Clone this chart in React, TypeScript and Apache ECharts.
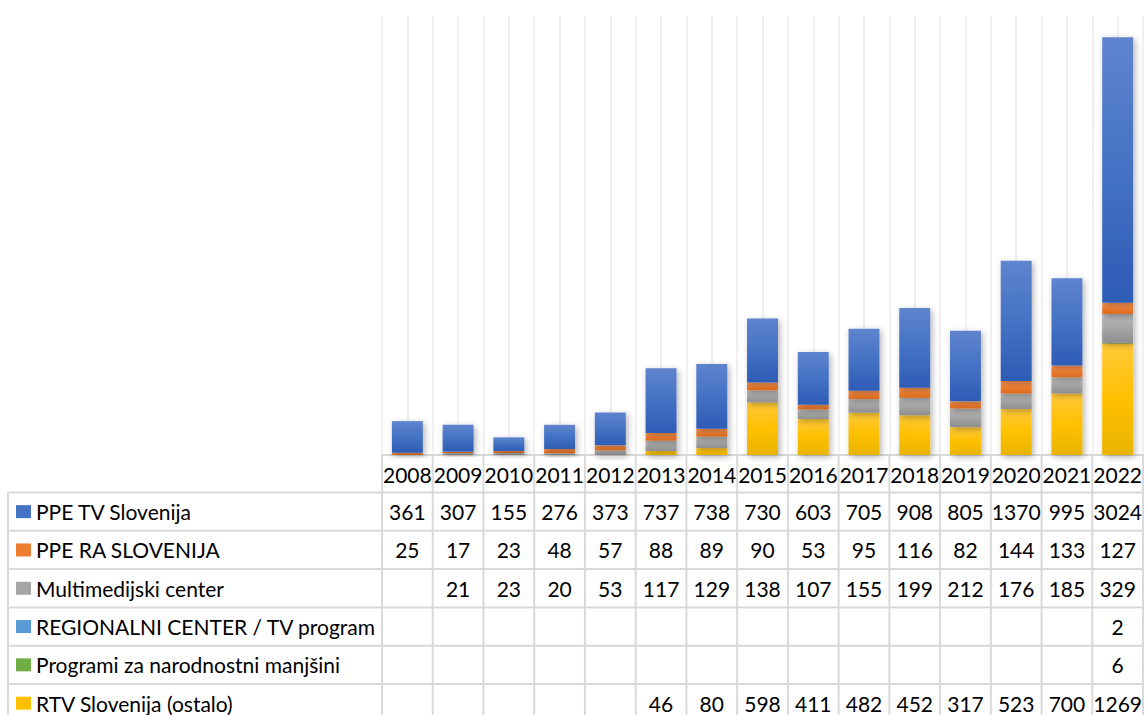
import React, { useEffect, useRef } from "react";
import * as echarts from "echarts";

const years = ["2008", "2009", "2010", "2011", "2012", "2013", "2014", "2015", "2016", "2017", "2018", "2019", "2020", "2021", "2022"];
const ppeTV = [361, 307, 155, 276, 373, 737, 738, 730, 603, 705, 908, 805, 1370, 995, 3024];
const ppeRA = [25, 17, 23, 48, 57, 88, 89, 90, 53, 95, 116, 82, 144, 133, 127];
const multimedijski = [null, 21, 23, 20, 53, 117, 129, 138, 107, 155, 199, 212, 176, 185, 329];
const regionalni = [null, null, null, null, null, null, null, null, null, null, null, null, null, null, 2];
const programi = [null, null, null, null, null, null, null, null, null, null, null, null, null, null, 6];
const rtvOstalo = [null, null, null, null, null, 46, 80, 598, 411, 482, 452, 317, 523, 700, 1269];

const seriesNames = [
  "PPE TV Slovenija",
  "PPE RA SLOVENIJA",
  "Multimedijski center",
  "REGIONALNI CENTER / TV program",
  "Programi za narodnostni manjšini",
  "RTV Slovenija (ostalo)",
];
const seriesData = [ppeTV, ppeRA, multimedijski, regionalni, programi, rtvOstalo];
const baseColors = ["#4472C4", "#ED7D31", "#A5A5A5", "#5B9BD5", "#70AD47", "#FFC000"];
const topColors = ["#5F84CE", "#F5945A", "#B8B8B8", "#7AAFDD", "#86BE62", "#FFCA3A"];
const bottomColors = ["#2E5CB5", "#DA6A1F", "#8E8E8E", "#3F82C0", "#5A9A33", "#E8B400"];

const FONT = "Lato, 'Noto Sans', sans-serif";
const FS = 21;

export default function App() {
  const ref = useRef<HTMLDivElement>(null);
  useEffect(() => {
    if (!ref.current) return;
    const chart = echarts.init(ref.current, null, { renderer: "svg" });
    const gridLeft = 382;
    const gridRight = 1;
    const gridTop = 16;
    const gridBottomY = 455;
    const H = 715;

    // stack order: bottom first
    const order = [5, 4, 3, 2, 1, 0];
    const series = order.map((i) => ({
      name: seriesNames[i],
      type: "bar",
      stack: "total",
      xAxisIndex: 0,
      yAxisIndex: 0,
      barWidth: "61%",
      data: seriesData[i],
      itemStyle: {
        color: new echarts.graphic.LinearGradient(0, 0, 0, 1, [
          { offset: 0, color: topColors[i] },
          { offset: 0.5, color: baseColors[i] },
          { offset: 1, color: bottomColors[i] },
        ]),
        shadowBlur: 6,
        shadowColor: "rgba(0,0,0,0.3)",
        shadowOffsetX: 2,
        shadowOffsetY: 2,
      },
    }));

    chart.setOption({
      animation: false,
      grid: { left: gridLeft, right: gridRight, top: gridTop, bottom: H - gridBottomY },
      xAxis: [
        {
          type: "category",
          data: years,
          axisLine: { show: true, lineStyle: { color: "#D9D9D9", width: 2 } },
          axisTick: { show: false },
          axisLabel: { fontSize: FS, color: "#000", fontFamily: FONT, margin: 9, interval: 0 },
          splitLine: { show: false },
        },
        {
          type: "value",
          min: 0,
          max: 30,
          interval: 1,
          show: true,
          axisLine: { show: false },
          axisTick: { show: false },
          axisLabel: { show: false },
          splitLine: { show: true, lineStyle: { color: "#EBEBEB", width: 1.5 } },
        },
      ],
      yAxis: {
        type: "value",
        min: 0,
        max: 5000,
        show: false,
        splitLine: { show: false },
      },
      series,
    });

    // Data table
    const centers = years.map((_, i) => chart.convertToPixel({ xAxisIndex: 0 }, i) as number);
    const colW = centers.length > 1 ? centers[1] - centers[0] : 50.8;
    const bounds = [centers[0] - colW / 2, ...centers.map((c) => c + colW / 2)];
    const tableLeft = 8;
    const rowTop = 492.5;
    const rowH = 38.3;
    const lineColor = "#D9D9D9";
    const graphic: any[] = [];
    bounds.forEach((x) => {
      graphic.push({
        type: "line",
        shape: { x1: x, y1: gridBottomY, x2: x, y2: H },
        style: { stroke: lineColor, lineWidth: 2 },
        z: 10,
      });
    });
    graphic.push({
      type: "line",
      shape: { x1: tableLeft, y1: rowTop, x2: tableLeft, y2: H },
      style: { stroke: lineColor, lineWidth: 2 },
      z: 10,
    });
    for (let r = 0; r < 6; r++) {
      const y = rowTop + r * rowH;
      graphic.push({
        type: "line",
        shape: { x1: tableLeft, y1: y, x2: bounds[bounds.length - 1], y2: y },
        style: { stroke: lineColor, lineWidth: 2 },
        z: 10,
      });
      const cy = y + rowH / 2;
      graphic.push({
        type: "rect",
        shape: { x: 16, y: cy - 6.5, width: 15, height: 13 },
        style: { fill: baseColors[r] },
        z: 11,
      });
      graphic.push({
        type: "text",
        x: 36,
        y: cy,
        style: {
          text: seriesNames[r],
          fontSize: FS,
          fontFamily: FONT,
          fill: "#000",
          verticalAlign: "middle",
        },
        z: 11,
      });
      seriesData[r].forEach((v, i) => {
        if (v === null || v === undefined) return;
        graphic.push({
          type: "text",
          x: centers[i],
          y: cy,
          style: {
            text: String(v),
            fontSize: FS,
            fontFamily: FONT,
            fill: "#000",
            align: "center",
            verticalAlign: "middle",
          },
          z: 11,
        });
      });
    }
    chart.setOption({ graphic });

    return () => chart.dispose();
  }, []);
  return (
    <div
      ref={ref}
      style={{ position: "fixed", left: 0, top: 0, width: 1145, height: 715, background: "#fff" }}
    />
  );
}
